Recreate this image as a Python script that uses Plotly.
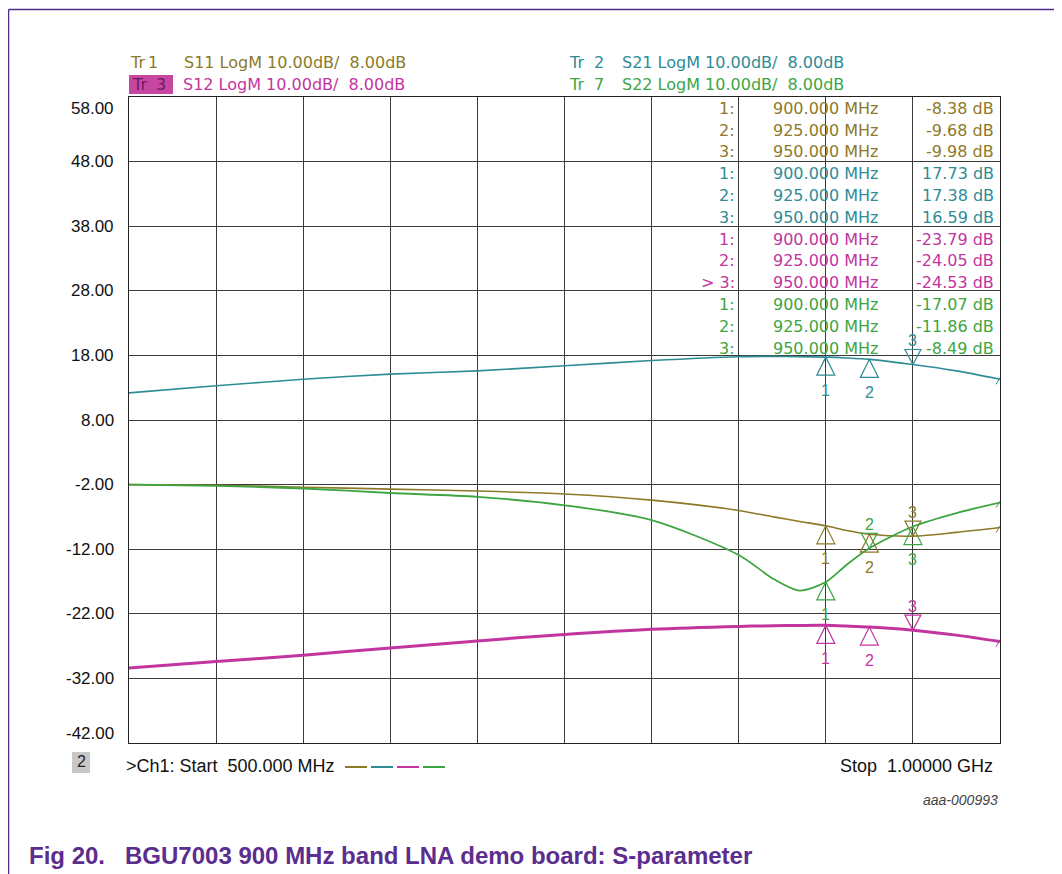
import plotly.graph_objects as go

# ---------------- data ----------------
freq_mhz = [500, 550, 600, 650, 700, 750, 800, 850, 870, 885, 900, 912, 925, 950, 975, 1000]
s11_db = [-2.0, -2.1, -2.4, -2.7, -3.0, -3.45, -4.4, -6.0, -7.0, -7.7, -8.38, -9.1, -9.68, -9.98, -9.4, -8.65]
s21_db = [12.2, 13.3, 14.3, 15.1, 15.6, 16.4, 17.2, 17.8, 17.85, 17.8, 17.73, 17.6, 17.38, 16.59, 15.6, 14.3]
s12_db = [-30.4, -29.4, -28.4, -27.3, -26.2, -25.2, -24.4, -23.95, -23.85, -23.8, -23.79, -23.9, -24.05, -24.53, -25.3, -26.3]
s22_db = [-2.0, -2.2, -2.6, -3.3, -3.9, -5.2, -7.5, -12.9, -16.6, -18.4, -17.07, -14.4, -11.86, -8.49, -6.4, -4.8]

marker_freq = [900.0, 925.0, 950.0]
s11_mk = [-8.38, -9.68, -9.98]
s21_mk = [17.73, 17.38, 16.59]
s12_mk = [-23.79, -24.05, -24.53]
s22_mk = [-17.07, -11.86, -8.49]

y_ticks = [58, 48, 38, 28, 18, 8, -2, -12, -22, -32, -42]
ref_level = 8.0

C11 = "#8C7A28"
C21 = "#2E8C96"
C12 = "#C2359F"
C22 = "#3EA542"

series = [
    ("S11", "1", s11_db, s11_mk, C11, 1.6, ["up", "up", "down"]),
    ("S21", "2", s21_db, s21_mk, C21, 1.6, ["up", "up", "down"]),
    ("S12", "3", s12_db, s12_mk, C12, 3.0, ["up", "up", "down"]),
    ("S22", "7", s22_db, s22_mk, C22, 1.8, ["up", "down", "up"]),
]

# ---------------- geometry (screen pixels -> paper) ----------------
OFF = 8                      # page body margin
FW, FH = 1062 - OFF, 874 - OFF
L, R, T, B = 129, 1000, 97, 743   # plot area in screen pixels


def px(x):
    return (x - L) / (R - L)


def py(y):
    return (B - y) / (B - T)


fig = go.Figure()

for name, tr, vals, mk, col, lw, orient in series:
    fig.add_trace(go.Scatter(
        x=freq_mhz, y=vals, mode="lines", name=name,
        line=dict(color=col, width=lw, shape="spline", smoothing=0.8),
        hoverinfo="x+y", showlegend=False,
    ))

shapes = []
annotations = []
FONT = "Liberation Sans, Arial, sans-serif"
WIDE = "DejaVu Sans, Verdana, sans-serif"


def text(x, y, s, col, size=16, family=WIDE, xa="left", **kw):
    d = dict(x=px(x), y=py(y), xref="paper", yref="paper", text=s, showarrow=False,
             xanchor=xa, yanchor="middle", font=dict(family=family, size=size, color=col))
    d.update(kw)
    annotations.append(d)


# marker triangles & numbers
for name, tr, vals, mk, col, lw, orient in series:
    for i, (f, v) in enumerate(zip(marker_freq, mk)):
        if orient[i] == "up":
            path = "M0,0 L-9,-18 L9,-18 Z"
            ys = -33
        else:
            path = "M0,0 L-8,15 L8,15 Z"
            ys = 24
        shapes.append(dict(type="path", xref="x", yref="y", xsizemode="pixel", ysizemode="pixel",
                           xanchor=f, yanchor=v, path=path,
                           line=dict(color=col, width=1.2), fillcolor="rgba(0,0,0,0)"))
        annotations.append(dict(x=f, y=v, xref="x", yref="y", text=str(i + 1), showarrow=False,
                                yshift=ys, yanchor="middle",
                                font=dict(family=FONT, size=16, color=col)))
    # caret at the end of each trace
    shapes.append(dict(type="path", xref="x", yref="y", xsizemode="pixel", ysizemode="pixel",
                       xanchor=freq_mhz[-1], yanchor=vals[-1], path="M-4,-5 L1,3 L6,-5",
                       line=dict(color=col, width=1)))

# reference level triangles
shapes.append(dict(type="path", xref="x", yref="y", xsizemode="pixel", ysizemode="pixel",
                   xanchor=freq_mhz[0], yanchor=ref_level, path="M-10,7 L-1,0 L-10,-7 Z",
                   line=dict(color=C12, width=0), fillcolor=C12))
shapes.append(dict(type="path", xref="x", yref="y", xsizemode="pixel", ysizemode="pixel",
                   xanchor=freq_mhz[-1], yanchor=ref_level, path="M10,7 L1,0 L10,-7 Z",
                   line=dict(color=C12, width=0), fillcolor=C12))

# y tick labels
for i, t in enumerate(y_ticks):
    shift = 0
    if i == 0:
        shift = -11
    elif i == len(y_ticks) - 1:
        shift = 10
    annotations.append(dict(x=px(116), y=t, xref="paper", yref="y", text=f"{t:.2f}",
                            showarrow=False, xanchor="right", yanchor="middle", yshift=shift,
                            font=dict(family=FONT, size=17, color="#111111")))

NB = "\u00a0"
# header texts
text(128, 62.5, "Tr", C11)
text(146, 62.5, "1", C11)
text(182, 62.5, f"S11 LogM 10.00dB/{NB}{NB}8.00dB", C11)
text(567, 62.5, "Tr", C21)
text(592, 62.5, "2", C21)
text(620, 62.5, f"S21 LogM 10.00dB/{NB}{NB}8.00dB", C21)
shapes.append(dict(type="rect", xref="paper", yref="paper", x0=px(129), x1=px(173), y0=py(94), y1=py(75),
                   line=dict(width=0), fillcolor="#C8469F"))
text(130, 84, "Tr", "#6E1A63")
text(154, 84, "3", "#6E1A63")
text(181, 84, f"S12 LogM 10.00dB/{NB}{NB}8.00dB", C12)
text(567, 84, "Tr", C22)
text(592, 84, "7", C22)
text(620, 84, f"S22 LogM 10.00dB/{NB}{NB}8.00dB", C22)

# marker table
row = 0
for name, tr, vals, mk, col, lw, orient in series:
    for i, (f, v) in enumerate(zip(marker_freq, mk)):
        yy = 108.3 + row * 21.8
        lab = f"{i + 1}:"
        if name == "S12" and i == 2:
            lab = f">{NB}3:"
        text(737, yy, lab, col, xa="right")
        text(771, yy, f"{f:.3f} MHz", col)
        text(996, yy, f"{v:.2f} dB", col, xa="right")
        row += 1

# footer line
shapes.append(dict(type="rect", xref="paper", yref="paper", x0=px(72), x1=px(90), y0=py(773), y1=py(752),
                   line=dict(width=0), fillcolor="#C8C8C8"))
text(81, 762, "2", "#222222", size=16, family=FONT, xa="center")
text(124, 766, f">Ch1:{NB}Start{NB}{NB}{freq_mhz[0]:.3f} MHz", "#111111", size=18, family=FONT)
text(995, 766, f"Stop{NB}{NB}{freq_mhz[-1] / 1000:.5f} GHz", "#111111", size=18, family=FONT, xa="right")
for k, col in enumerate([C11, C21, C12, C22]):
    x0 = 345 + k * 26
    shapes.append(dict(type="line", xref="paper", yref="paper", x0=px(x0), x1=px(x0 + 22),
                       y0=py(767), y1=py(767), line=dict(color=col, width=2)))

text(1000, 800, "<i>aaa-000993</i>", "#444444", size=14, family=FONT, xa="right")
text(27, 855, f"<b>Fig 20.{NB}{NB}{NB}BGU7003 900 MHz band LNA demo board: S-parameter</b>",
     "#5A2D8E", size=24, family="Liberation Sans Narrow, Arial Narrow, Liberation Sans, sans-serif")

# page frame (top and left edges)
FR = "#4B2A8C"
shapes.append(dict(type="line", xref="paper", yref="paper", x0=px(8.5), x1=px(1062), y0=py(9.5), y1=py(9.5),
                   line=dict(color=FR, width=1.5)))
shapes.append(dict(type="line", xref="paper", yref="paper", x0=px(8.5), x1=px(8.5), y0=py(9.5), y1=py(874),
                   line=dict(color=FR, width=1.5)))

fig.update_layout(
    width=FW, height=FH,
    margin=dict(l=L - OFF, r=FW - (R - OFF), t=T - OFF, b=FH - (B - OFF)),
    paper_bgcolor="white", plot_bgcolor="white",
    shapes=shapes, annotations=annotations,
    xaxis=dict(range=[500, 1000], tick0=500, dtick=50, showticklabels=False, ticks="",
               showgrid=True, gridcolor="#3A3A3A", gridwidth=1, zeroline=False,
               showline=True, linecolor="#222222", linewidth=1, mirror=True),
    yaxis=dict(range=[-42, 58], tick0=-42, dtick=10, showticklabels=False, ticks="",
               showgrid=True, gridcolor="#3A3A3A", gridwidth=1, zeroline=False,
               showline=True, linecolor="#222222", linewidth=1, mirror=True),
)

fig.write_html("out.html")
